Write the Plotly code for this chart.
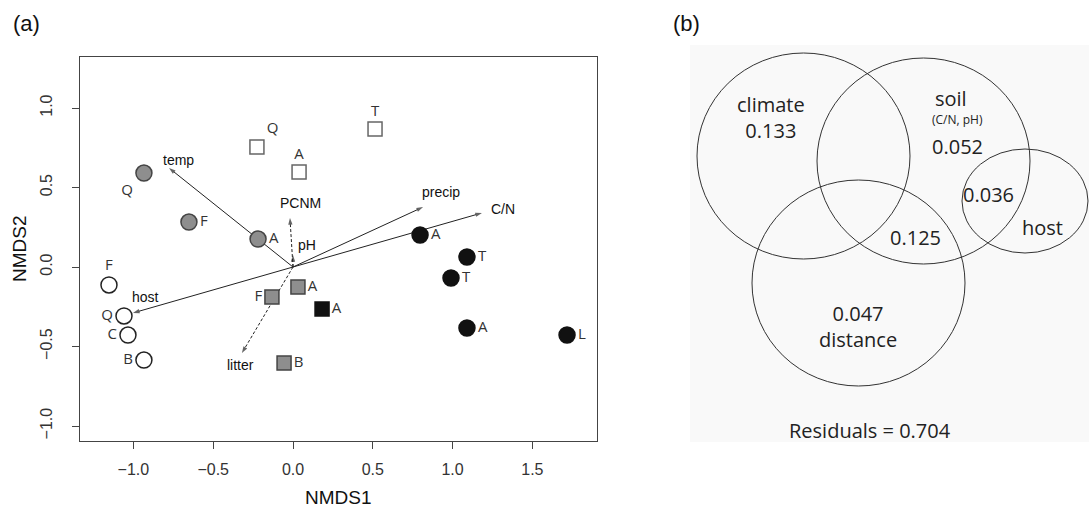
import plotly.graph_objects as go

# ---------------- data: NMDS site scores ----------------
open_sq_x = [-0.226, 0.038, 0.514]
open_sq_y = [0.755, 0.597, 0.868]
open_sq_lab = ["Q", "A", "T"]

gray_ci_x = [-0.934, -0.652, -0.219]
gray_ci_y = [0.591, 0.283, 0.176]
gray_ci_lab = ["Q", "F", "A"]

black_ci_x = [0.796, 1.090, 0.990, 1.090, 1.717]
black_ci_y = [0.201, 0.063, -0.069, -0.384, -0.428]
black_ci_lab = ["A", "T", "T", "A", "L"]

open_ci_x = [-1.153, -1.059, -1.034, -0.934]
open_ci_y = [-0.113, -0.308, -0.428, -0.585]
open_ci_lab = ["F", "Q", "C", "B"]

gray_sq_x = [-0.132, 0.031, -0.056]
gray_sq_y = [-0.189, -0.126, -0.604]
gray_sq_lab = ["F", "A", "B"]

black_sq_x = [0.182]
black_sq_y = [-0.264]
black_sq_lab = ["A"]

# environmental vectors (fitted arrows)
solid_vec_names = ["temp", "precip", "C/N", "host"]
solid_vec_x = [-0.777, 0.815, 1.184, -1.003]
solid_vec_y = [0.623, 0.377, 0.340, -0.289]

dashed_vec_names = ["PCNM", "pH", "litter"]
dashed_vec_x = [-0.019, 0.000, -0.320]
dashed_vec_y = [0.308, 0.075, -0.541]

# ticks
x_ticks = [-1.0, -0.5, 0.0, 0.5, 1.0, 1.5]
x_ticktext = ["\u22121.0", "\u22120.5", "0.0", "0.5", "1.0", "1.5"]
y_ticks = [-1.0, -0.5, 0.0, 0.5, 1.0]
y_ticktext = ["\u22121.0", "\u22120.5", "0.0", "0.5", "1.0"]

# variation partitioning (Venn)
venn_names = ["climate", "soil", "host", "distance"]
venn_unique = ["0.133", "0.052", "0.036", "0.047"]
venn_shared = "0.125"
residuals = "0.704"

# ---------------- styles / layout geometry ----------------
W, H = 1089, 509
PT_FONT = dict(family="Open Sans", size=15, color="#333333")
AX_FONT = dict(family="Liberation Sans", size=16, color="#333333")

fig = go.Figure()

def add_group(xs, ys, labs, symbol, size, fill, edge, positions):
    fig.add_trace(go.Scatter(
        x=xs, y=ys, mode="markers+text", text=labs,
        textposition=positions, textfont=PT_FONT,
        marker=dict(symbol=symbol, size=size, color=fill,
                    line=dict(color=edge, width=1.5)),
        hoverinfo="skip", showlegend=False, cliponaxis=False))

# arrows
def add_vectors(xs, ys, dash):
    px, py, sz = [], [], []
    for x, y in zip(xs, ys):
        px += [0, x, None]
        py += [0, y, None]
        sz += [0, 7, 0]
    fig.add_trace(go.Scatter(
        x=px, y=py, mode="lines+markers",
        line=dict(color="#222222", width=1, dash=dash),
        marker=dict(symbol="arrow", size=sz, angleref="previous",
                    color="#222222", line=dict(width=0)),
        hoverinfo="skip", showlegend=False))

add_vectors(solid_vec_x, solid_vec_y, "solid")
add_vectors(dashed_vec_x, dashed_vec_y, "3px,2px")

add_group(open_sq_x, open_sq_y, open_sq_lab, "square", 14, "white", "#666666",
          ["top right", "top center", "top center"])
add_group(gray_ci_x, gray_ci_y, gray_ci_lab, "circle", 16, "#8e8e8e", "#444444",
          ["bottom left", "middle right", "middle right"])
add_group(black_ci_x, black_ci_y, black_ci_lab, "circle", 16, "#111111", "#111111",
          ["middle right"] * 5)
add_group(open_ci_x, open_ci_y, open_ci_lab, "circle", 16, "white", "#222222",
          ["top center", "middle left", "middle left", "middle left"])
add_group(gray_sq_x, gray_sq_y, gray_sq_lab, "square", 14, "#8e8e8e", "#444444",
          ["middle left", "middle right", "middle right"])
add_group(black_sq_x, black_sq_y, black_sq_lab, "square", 14, "#111111", "#111111",
          ["middle right"])

# arrow labels
vec_label_pos = {
    "temp": (0.06, 0.05), "precip": (0.11, 0.095), "C/N": (0.13, 0.025),
    "host": (0.08, 0.10), "PCNM": (0.063, 0.095), "pH": (0.088, 0.063),
    "litter": (-0.006, -0.075),
}
for n, x, y in list(zip(solid_vec_names, solid_vec_x, solid_vec_y)) + \
        list(zip(dashed_vec_names, dashed_vec_x, dashed_vec_y)):
    dx, dy = vec_label_pos[n]
    fig.add_annotation(x=x + dx, y=y + dy, text=n, showarrow=False,
                       xref="x", yref="y",
                       font=dict(family="Liberation Sans", size=14, color="#111111"))

# Venn panel shapes (pixel coordinates on x2/y2)
fig.add_shape(type="rect", xref="x2", yref="y2", x0=690, x1=1089, y0=45, y1=442,
              fillcolor="#f9f9f9", line=dict(width=0), layer="below")
circles = {
    "climate": (697, 910, 53, 259),
    "soil": (817, 1030, 58, 264),
    "host": (962, 1088, 149, 253),
    "distance": (752, 965, 180, 386),
}
for name in venn_names:
    x0, x1, y0, y1 = circles[name]
    fig.add_shape(type="circle", xref="x2", yref="y2", x0=x0, x1=x1, y0=y0, y1=y1,
                  line=dict(color="#333333", width=1))

VF = dict(family="Open Sans", size=20, color="#222222")
venn_text = [
    (771, 117, venn_names[0] + "<br>" + venn_unique[0], VF),
    (951, 98, venn_names[1], VF),
    (957, 119, "(C/N, pH)", dict(family="Open Sans", size=12, color="#222222")),
    (957, 146, venn_unique[1], VF),
    (988, 194, venn_unique[2], VF),
    (1042, 227, venn_names[2], VF),
    (915, 237, venn_shared, VF),
    (858, 326, venn_unique[3] + "<br>" + venn_names[3], VF),
    (870, 430, "Residuals = " + residuals, VF),
]
for x, y, t, f in venn_text:
    fig.add_annotation(x=x, y=y, xref="x2", yref="y2", text=t, showarrow=False, font=f)

# panel labels and axis titles (pixel coords)
for x, y, t, s, ang in [(26, 23, "(a)", 22, 0), (686, 23, "(b)", 22, 0),
                        (338, 497, "NMDS1", 19, 0), (19, 249, "NMDS2", 19, -90)]:
    fig.add_annotation(x=x, y=y, xref="x2", yref="y2", text=t, showarrow=False,
                       textangle=ang,
                       font=dict(family="Liberation Sans", size=s, color="#111111"))

x0p, x1p, ytop, ybot = 80, 597, 57, 441
fig.update_layout(
    width=W, height=H, margin=dict(l=0, r=0, t=0, b=0),
    paper_bgcolor="white", plot_bgcolor="rgba(0,0,0,0)", showlegend=False,
    xaxis=dict(domain=[x0p / W, x1p / W], range=[-1.3346, 1.9048],
               showline=True, mirror=True, linecolor="#444444", linewidth=1.2,
               ticks="outside", ticklen=7, tickcolor="#444444", tickwidth=1.2,
               tickvals=x_ticks, ticktext=x_ticktext, tickfont=AX_FONT,
               showgrid=False, zeroline=False, anchor="y", ticklabelstandoff=7),
    yaxis=dict(domain=[1 - ybot / H, 1 - ytop / H], range=[-1.0943, 1.3208],
               showline=True, mirror=True, linecolor="#444444", linewidth=1.2,
               ticks="outside", ticklen=7, tickcolor="#444444", tickwidth=1.2,
               tickvals=y_ticks, ticktext=y_ticktext, tickfont=AX_FONT,
               tickangle=-90, showgrid=False, zeroline=False, anchor="x",
               ticklabelstandoff=14),
    xaxis2=dict(domain=[0, 1], range=[0, W], visible=False, anchor="y2",
                fixedrange=True),
    yaxis2=dict(domain=[0, 1], range=[H, 0], visible=False, anchor="x2",
                fixedrange=True),
)

fig.write_html("out.html", config={"displayModeBar": False},
               post_script="document.body.style.margin='0';"
                           "document.body.style.overflow='hidden';")
